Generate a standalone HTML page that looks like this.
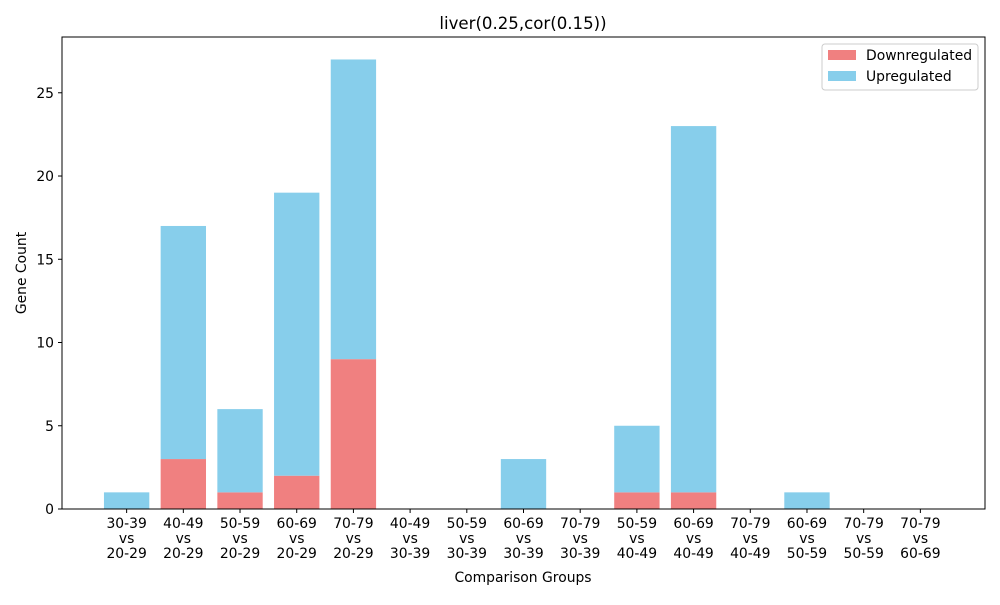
<!DOCTYPE html>
<html><head><meta charset="utf-8"><style>
body{margin:0;background:#fff;font-family:"Liberation Sans","DejaVu Sans",sans-serif;}
svg text{font-family:"DejaVu Sans","Liberation Sans",sans-serif;}
</style></head><body>
<svg id="chart" width="1000" height="600" xmlns="http://www.w3.org/2000/svg">
<rect width="1000" height="600" fill="#fff"/>
<text x="523" y="29" font-size="16.6" text-anchor="middle">liver(0.25,cor(0.15))</text>
<g id="bars"></g>
<g id="axes"></g>
<rect x="62" y="37" width="923" height="472" fill="none" stroke="#000" stroke-width="1"/>
<text x="523" y="582" font-size="13.9" text-anchor="middle">Comparison Groups</text>
<text transform="translate(26,273) rotate(-90)" font-size="13.9" text-anchor="middle">Gene Count</text>
<g>
<rect x="822" y="44" width="156" height="46" fill="#fff" stroke="#ccc" rx="3"/>
<rect x="828" y="50" width="28" height="10" fill="#f08080"/>
<text x="866" y="60" font-size="13.9">Downregulated</text>
<rect x="828" y="71" width="28" height="10" fill="#87ceeb"/>
<text x="866" y="81" font-size="13.9">Upregulated</text>
</g>
</svg>
<script>
const categories=["30-39|vs|20-29","40-49|vs|20-29","50-59|vs|20-29","60-69|vs|20-29","70-79|vs|20-29","40-49|vs|30-39","50-59|vs|30-39","60-69|vs|30-39","70-79|vs|30-39","50-59|vs|40-49","60-69|vs|40-49","70-79|vs|40-49","60-69|vs|50-59","70-79|vs|50-59","70-79|vs|60-69"];
const downValues=[0,3,1,2,9,0,0,0,0,1,1,0,0,0,0];
const upValues=[1,14,5,17,18,0,0,3,0,4,22,0,1,0,0];
const yTicks=[0,5,10,15,20,25];
const NS="http://www.w3.org/2000/svg";
const L=62,R=985,T=37,B=509,xmin=-1.14,xmax=categories.length-1+1.14,ymax=28.35;
const xs=i=>L+(i-xmin)/(xmax-xmin)*(R-L);
const ys=v=>B-v/ymax*(B-T);
const bw=0.8*(R-L)/(xmax-xmin);
const bars=document.getElementById('bars'),axes=document.getElementById('axes');
function mk(tag,attrs,parent){const e=document.createElementNS(NS,tag);for(const k in attrs)e.setAttribute(k,attrs[k]);parent.appendChild(e);return e;}
categories.forEach((c,i)=>{
 const d=downValues[i],u=upValues[i],x=xs(i)-bw/2;
 const r1=mk('rect',{x:x,y:ys(d),width:bw,height:ys(0)-ys(d),fill:'#f08080'},bars);
 
 
 const r2=mk('rect',{x:x,y:ys(d+u),width:bw,height:ys(d)-ys(d+u),fill:'#87ceeb'},bars);
 
 
 mk('line',{x1:xs(i),x2:xs(i),y1:B,y2:B+4,stroke:'#000'},axes);
 const t=mk('text',{x:xs(i),y:B+19,'font-size':13.9,'text-anchor':'middle'},axes);
 
 
 c.split('|').forEach((p,j)=>{const s=mk('tspan',{x:xs(i),dy:j?15:0},t);s.textContent=p;});
});
yTicks.forEach(v=>{
 mk('line',{x1:L-4,x2:L,y1:ys(v),y2:ys(v),stroke:'#000'},axes);
 const t=mk('text',{x:L-8,y:ys(v)+5,'font-size':13.9,'text-anchor':'end'},axes);
 
 
 t.textContent=v;
});
</script>
</body></html>
